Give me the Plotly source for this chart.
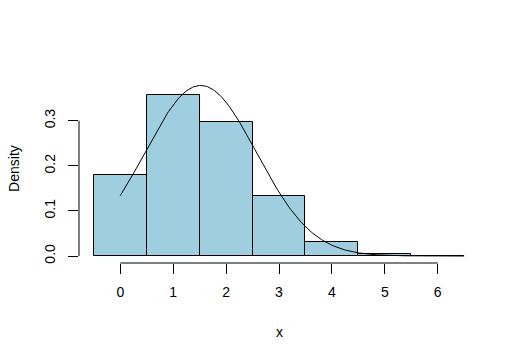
import numpy as np
import plotly.graph_objects as go

# Histogram bins (centres) and densities
bin_centers = [0, 1, 2, 3, 4, 5, 6]
densities = [0.179, 0.357, 0.298, 0.132, 0.032, 0.004, 0.001]

# Normal density curve overlaid (curve(dnorm(x, mean, sd), 0, 6.5))
curve_mean = 1.52
curve_sd = 1.055
curve_from, curve_to = 0.0, 6.5

x_ticks = [0, 1, 2, 3, 4, 5, 6]
y_ticks = [0.0, 0.1, 0.2, 0.3]
y_tick_labels = ["0.0", "0.1", "0.2", "0.3"]

xc = np.linspace(curve_from, curve_to, 300)
yc = np.exp(-((xc - curve_mean) ** 2) / (2 * curve_sd ** 2)) / (curve_sd * np.sqrt(2 * np.pi))

font = dict(family="Liberation Sans, Arial, Helvetica, sans-serif", size=14, color="black")

fig = go.Figure()
fig.add_trace(go.Bar(x=bin_centers, y=densities, width=1,
                     marker=dict(color="#9FCEE0", line=dict(color="black", width=1)),
                     hoverinfo="skip"))
fig.add_trace(go.Scatter(x=xc, y=yc, mode="lines", line=dict(color="black", width=1),
                         hoverinfo="skip"))

W, H = 520, 361
l, r, t, b = 78.7, 40.7, 73.7, 98.3
fig.update_layout(
    width=W, height=H, showlegend=False,
    margin=dict(l=l, r=r, t=t, b=b, pad=0),
    paper_bgcolor="white", plot_bgcolor="white", font=font, bargap=0,
    xaxis=dict(range=[-0.78, 6.78], tickvals=x_ticks, ticks="outside", ticklen=10,
               tickcolor="black", tickwidth=1, showgrid=False, zeroline=False,
               showline=False, tickfont=font, ticklabelstandoff=6),
    yaxis=dict(range=[-0.0155, 0.4035], tickvals=y_ticks, ticktext=y_tick_labels,
               ticks="outside", ticklen=10, tickcolor="black", tickwidth=1,
               showgrid=False, zeroline=False, showline=False, tickangle=-90,
               tickfont=font, ticklabelstandoff=7),
)
# R-style axis lines spanning first to last tick
fig.add_shape(type="line", xref="x", yref="paper", x0=x_ticks[0], x1=x_ticks[-1], y0=0, y1=0,
              line=dict(color="black", width=1))
fig.add_shape(type="line", xref="paper", yref="y", x0=0, x1=0, y0=y_ticks[0], y1=y_ticks[-1],
              line=dict(color="black", width=1))
# Axis titles
fig.add_annotation(text="x", xref="paper", yref="paper", x=0.5, y=(H - 332 - b) / (H - t - b),
                   showarrow=False, font=font, xanchor="center", yanchor="middle")
fig.add_annotation(text="Density", xref="paper", yref="paper", x=(13 - l) / (W - l - r), y=0.5,
                   showarrow=False, font=font, textangle=-90, xanchor="center", yanchor="middle")

fig.write_html("out.html")
